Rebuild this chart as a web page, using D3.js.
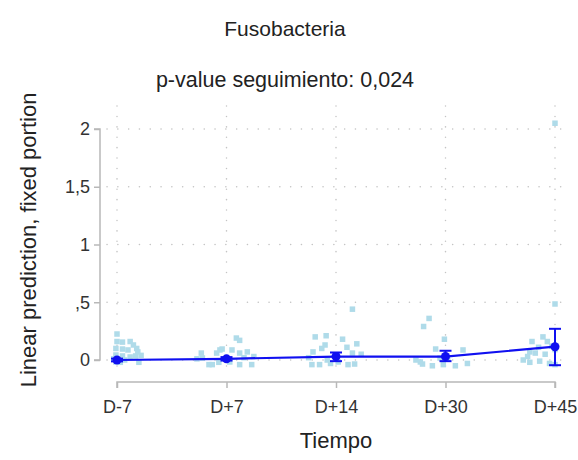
<!DOCTYPE html>
<html>
<head>
<meta charset="utf-8">
<script src="https://cdn.jsdelivr.net/npm/d3@7"></script>
<style>
  body { margin: 0; background: #fff; }
  svg { display: block; }
</style>
</head>
<body>
<svg id="svg1"></svg>
<script>
const width = 578;
const height = 460;

const categories = ["D-7", "D+7", "D+14", "D+30", "D+45"];
const yTicks = [0, 0.5, 1, 1.5, 2];
const yTickLabels = ["0", ",5", "1", "1,5", "2"];

// predicted means + 95% CI
const means = [0.0, 0.01, 0.03, 0.03, 0.115];
const ciLow = [-0.012, -0.005, -0.01, -0.01, -0.045];
const ciHigh = [0.012, 0.025, 0.065, 0.08, 0.27];

// observations: time position (category index + jitter) and value
const obsTime = [
  0, 0, 0.05, 0.12, -0.01, 0.05, 0.1, 0.18, 0.19, -0.01, 0.05, 0.12, 0.17, -0.01, 0.03, 0.22, 0.15, 0.07, -0.03, 0.2,
  1.09, 1.12, 0.94, 0.96, 1.05, 0.91, 1.12, 1.19, 0.78, 0.84, 0.87, 1.12, 1.23, 1.03, 0.77, 0.73, 1.16, 0.93, 1.25,
  2.15, 1.81, 1.91, 2.06, 1.9, 1.87, 2.1, 2.19, 1.79, 2.15, 1.78, 1.85, 2.02, 2.11, 2.17, 1.92, 1.75, 2.23, 1.95,
  2.85, 2.8, 2.99, 2.91, 3.16, 2.77, 2.79, 2.88, 2.98, 3.09, 3.02, 2.95, 2.73, 3.2,
  4, 4, 3.79, 3.89, 3.93, 3.85, 3.77, 3.82, 3.75, 3.77, 3.86, 3.95, 4, 4, 3.91, 3.71, 3.97
];
const obsValue = [
  0.225, 0.16, 0.155, 0.16, 0.1, 0.095, 0.087, 0.1, 0.07, 0.043, 0.035, 0.026, 0.035, -0.017, -0.02, 0.04, 0.13, 0.0, 0.01, -0.02,
  0.19, 0.17, 0.087, 0.095, 0.087, 0.06, 0.06, 0.07, 0.017, -0.04, -0.04, -0.04, -0.04, -0.017, 0.06, 0.01, 0.02, -0.02, 0.03,
  0.44, 0.2, 0.21, 0.18, 0.13, 0.1, 0.11, 0.14, 0.07, 0.06, -0.04, -0.04, -0.017, -0.04, -0.035, 0.0, 0.02, 0.05, -0.03,
  0.36, 0.29, 0.18, 0.095, 0.087, -0.017, -0.035, -0.05, -0.04, -0.05, 0.017, 0.017, 0.0, -0.03,
  2.05, 0.485, 0.16, 0.2, 0.16, 0.11, 0.07, 0.06, 0.03, -0.02, -0.01, -0.03, 0.09, -0.04, 0.05, 0.0, 0.12
];

const font = "'Liberation Sans', Arial, sans-serif";

const svg = d3.select("#svg1")
    .attr("width", width)
    .attr("height", height)
    .attr("viewBox", [0, 0, width, height])
    .style("font-family", font);

const x = d3.scaleLinear().domain([0, categories.length - 1]).range([117, 555]);
const y = d3.scaleLinear().domain([0, 2]).range([360, 129]);

const gridColor = "#c4c4c4";
const axisColor = "#b8b8b8";
const blue = "#1010f0";

// dotted grid
svg.append("g")
    .selectAll("line")
    .data(yTicks)
    .join("line")
    .attr("x1", 107).attr("x2", 570)
    .attr("y1", d => y(d)).attr("y2", d => y(d))
    .attr("stroke", gridColor)
    .attr("stroke-width", 1.5)
    .attr("stroke-linecap", "round")
    .attr("stroke-dasharray", "0.1,10.7");

svg.append("g")
    .selectAll("line")
    .data(categories)
    .join("line")
    .attr("x1", (d, i) => x(i)).attr("x2", (d, i) => x(i))
    .attr("y1", 106).attr("y2", 376)
    .attr("stroke", gridColor)
    .attr("stroke-width", 1.5)
    .attr("stroke-linecap", "round")
    .attr("stroke-dasharray", "0.1,10.3");

// y axis
const yAxis = svg.append("g")
    .attr("transform", "translate(100,0)")
    .call(d3.axisLeft(y).tickValues(yTicks).tickSize(6).tickPadding(4)
        .tickFormat((d, i) => yTickLabels[i]));
yAxis.select(".domain").attr("stroke", axisColor).attr("stroke-width", 1.5).attr("d", `M-6,${y(2)}H0V${y(0)}H-6`);
yAxis.selectAll(".tick line").attr("stroke", axisColor).attr("stroke-width", 1.5);
yAxis.selectAll(".tick text").attr("fill", "#333").style("font-size", "18px").style("font-family", font);

// x axis
const xAxis = svg.append("g")
    .attr("transform", "translate(0,382)")
    .call(d3.axisBottom(x).tickValues(d3.range(categories.length)).tickSize(6).tickPadding(12)
        .tickFormat(i => categories[i]));
xAxis.select(".domain").attr("stroke", axisColor).attr("stroke-width", 1.5).attr("d", `M${x(0)},6V0H${x(4)}V6`);
xAxis.selectAll(".tick line").attr("stroke", axisColor).attr("stroke-width", 1.5);
xAxis.selectAll(".tick text").attr("fill", "#333").style("font-size", "18px").style("font-family", font);

// observations
svg.append("g")
    .selectAll("rect")
    .data(obsValue.map((v, i) => [obsTime[i], v]))
    .join("rect")
    .attr("x", d => x(d[0]) - 2.75)
    .attr("y", d => y(d[1]) - 2.75)
    .attr("width", 5.5)
    .attr("height", 5.5)
    .attr("fill", "#afdbe9");

// CI
const ci = svg.append("g").attr("stroke", blue).attr("stroke-width", 2);
ci.selectAll(".v")
    .data(categories)
    .join("line")
    .attr("x1", (d, i) => x(i)).attr("x2", (d, i) => x(i))
    .attr("y1", (d, i) => y(ciLow[i])).attr("y2", (d, i) => y(ciHigh[i]));
ci.selectAll(".lo")
    .data(categories)
    .join("line")
    .attr("x1", (d, i) => x(i) - 6).attr("x2", (d, i) => x(i) + 6)
    .attr("y1", (d, i) => y(ciLow[i])).attr("y2", (d, i) => y(ciLow[i]));
ci.selectAll(".hi")
    .data(categories)
    .join("line")
    .attr("x1", (d, i) => x(i) - 6).attr("x2", (d, i) => x(i) + 6)
    .attr("y1", (d, i) => y(ciHigh[i])).attr("y2", (d, i) => y(ciHigh[i]));

// mean line + markers
svg.append("path")
    .datum(means)
    .attr("fill", "none")
    .attr("stroke", blue)
    .attr("stroke-width", 2.2)
    .attr("d", d3.line().x((d, i) => x(i)).y(d => y(d)));

svg.append("g")
    .selectAll("circle")
    .data(means)
    .join("circle")
    .attr("cx", (d, i) => x(i))
    .attr("cy", d => y(d))
    .attr("r", 4.5)
    .attr("fill", blue);

// titles
svg.append("text")
    .attr("x", 285).attr("y", 36)
    .attr("text-anchor", "middle")
    .style("font-size", "21px")
    .attr("fill", "#222")
    .text("Fusobacteria");

svg.append("text")
    .attr("x", 285).attr("y", 87)
    .attr("text-anchor", "middle")
    .style("font-size", "21.5px")
    .attr("fill", "#222")
    .text("p-value seguimiento: 0,024");

svg.append("text")
    .attr("transform", "translate(36,240) rotate(-90)")
    .attr("text-anchor", "middle")
    .style("font-size", "22px")
    .attr("fill", "#222")
    .text("Linear prediction, fixed portion");

svg.append("text")
    .attr("x", 336).attr("y", 448)
    .attr("text-anchor", "middle")
    .style("font-size", "22px")
    .attr("fill", "#222")
    .text("Tiempo");
</script>
</body>
</html>
